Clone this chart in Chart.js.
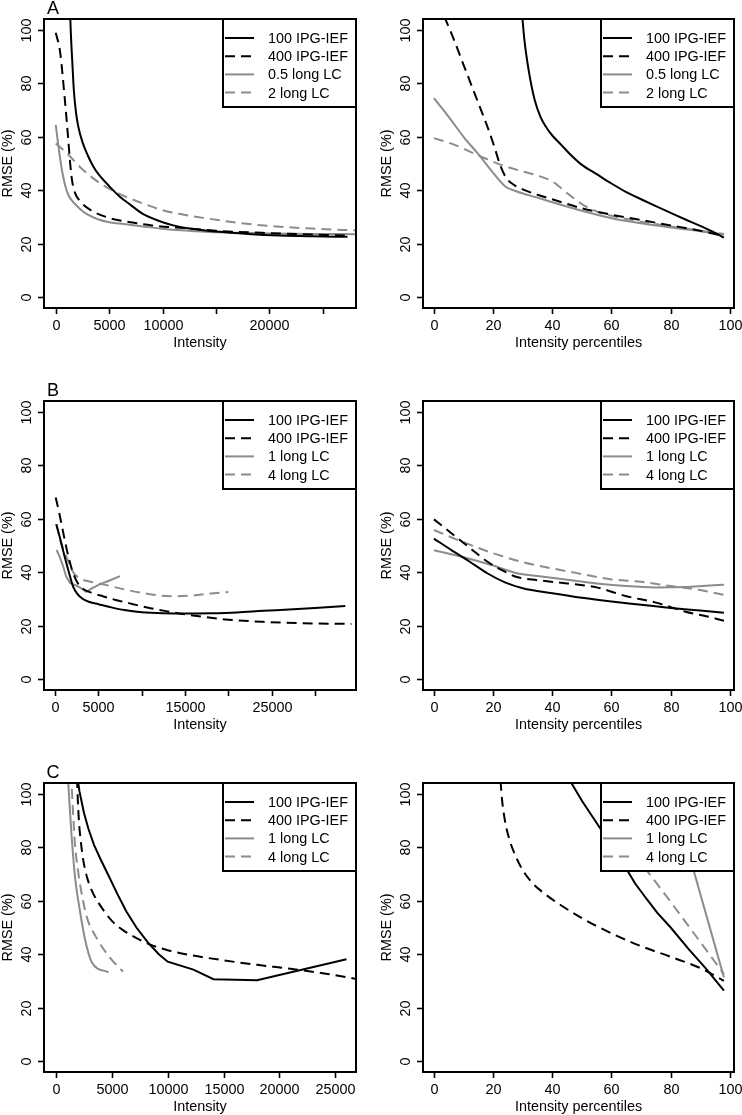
<!DOCTYPE html>
<html>
<head>
<meta charset="utf-8">
<script src="https://cdn.jsdelivr.net/npm/chart.js@4.4.1/dist/chart.umd.min.js"></script>
<style>
  html, body { margin: 0; padding: 0; background: #fff; }
  #page { position: relative; width: 742px; height: 1115px; overflow: hidden; }
  canvas { position: absolute; }
</style>
</head>
<body>
<div id="page">
  <canvas id="aInt" width="371" height="372" style="left:0;top:0"></canvas>
  <canvas id="aPct" width="371" height="372" style="left:371px;top:0"></canvas>
  <canvas id="bInt" width="371" height="372" style="left:0;top:372px"></canvas>
  <canvas id="bPct" width="371" height="372" style="left:371px;top:372px"></canvas>
  <canvas id="cInt" width="371" height="371" style="left:0;top:744px"></canvas>
  <canvas id="cPct" width="371" height="371" style="left:371px;top:744px"></canvas>
</div>
<script>
// ── Axis ticks / labels ───────────────────────────────────────────────────
const rmseTicks   = [0, 20, 40, 60, 80, 100];
const pctTicks    = [0, 20, 40, 60, 80, 100];
const intTicksA   = [0, 5000, 10000, 15000, 20000, 25000];
const intLabelsA  = ["0", "5000", "10000", "", "20000", ""];
const intTicksB   = [0, 5000, 10000, 15000, 20000, 25000, 30000];
const intLabelsB  = ["0", "5000", "", "15000", "", "25000", ""];
const intTicksC   = [0, 5000, 10000, 15000, 20000, 25000];
const intLabelsC  = ["0", "5000", "10000", "15000", "20000", "25000"];
const legendA     = ["100 IPG-IEF", "400 IPG-IEF", "0.5 long LC", "2 long LC"];
const legendBC    = ["100 IPG-IEF", "400 IPG-IEF", "1 long LC", "4 long LC"];

// ── A, intensity ──────────────────────────────────────────────────────────
const aIntX_ipg100 = [1300, 1400, 1550, 1700, 1900, 2100, 2500, 3000, 3500, 4000, 5000, 6000, 7000, 8000, 9000, 10000, 11000, 12500, 15000, 18000, 21000, 24000, 27300];
const aIntY_ipg100 = [112, 100, 88, 77, 69, 64, 58, 53, 49, 46, 41.5, 37.5, 34.5, 31.5, 29.5, 28, 26.8, 25.6, 24.5, 23.6, 23.0, 22.7, 22.5];
const aIntX_ipg400 = [0, 400, 850, 1150, 1350, 1550, 1800, 2250, 3200, 5000, 7000, 9000, 12000, 15000, 20000, 27300];
const aIntY_ipg400 = [99, 92, 74, 60, 50, 43, 39, 36, 32.7, 29.6, 28, 26.8, 25.8, 24.8, 23.9, 23];
const aIntX_lc1    = [0, 300, 600, 900, 1200, 1500, 2000, 2500, 3000, 4000, 5000, 6000, 8000, 10000, 13000, 16000, 20000, 24000, 28100];
const aIntY_lc1    = [64.5, 55, 47, 41.5, 38, 36.2, 34, 32.2, 30.8, 29, 28, 27.5, 26.5, 25.5, 24.6, 24.1, 23.8, 23.6, 23.5];
const aIntX_lc2    = [0, 1000, 2500, 4000, 5500, 7000, 8500, 10000, 12000, 14000, 17000, 20000, 24000, 28100];
const aIntY_lc2    = [57.5, 54, 47.8, 43, 39.5, 36.8, 34.5, 32.5, 30.8, 29.5, 27.8, 26.6, 25.6, 24.9];

// ── A, percentiles ────────────────────────────────────────────────────────
const aPctX_ipg100 = [29.5, 30.5, 32, 34, 36, 38, 40, 43, 46, 50, 55, 60, 65, 70, 75, 80, 85, 90, 95, 98];
const aPctY_ipg100 = [110, 97, 85, 74, 67.5, 63.5, 60.5, 57, 53.5, 49.5, 46, 42.5, 39.3, 36.6, 34, 31.5, 29, 26.6, 24, 22.2];
const aPctX_ipg400 = [3.5, 6, 10, 14, 18, 20.5, 22.5, 24.5, 27, 30, 35, 40, 50, 60, 70, 80, 90, 98];
const aPctY_ipg400 = [105, 98.5, 87, 75.5, 64, 56, 49, 44.5, 42, 40.3, 38.3, 36.6, 33.2, 30.8, 28.8, 26.8, 24.8, 22.8];
const aPctX_lc1    = [0, 5, 10, 15, 20, 24, 28, 35, 40, 50, 60, 70, 80, 90, 98];
const aPctY_lc1    = [74.5, 67.5, 60, 53.5, 46.5, 41.5, 39.5, 37.2, 35.5, 32.3, 29.5, 27.6, 26, 24.6, 23.3];
const aPctX_lc2    = [0, 7, 15, 24, 30, 35, 40, 45, 50, 55, 60, 70, 80, 90, 98];
const aPctY_lc2    = [59.5, 57, 53, 49, 47, 45.5, 43.3, 38.9, 34.8, 32, 30.4, 28.2, 26.4, 24.8, 23.6];

// ── B, intensity ──────────────────────────────────────────────────────────
const bIntX_ipg100 = [150, 600, 1100, 1600, 2100, 2600, 3200, 4000, 5000, 6500, 8000, 10000, 12500, 15000, 18000, 21000, 24000, 27000, 30000, 33500];
const bIntY_ipg100 = [58, 52.5, 46, 40, 34.5, 31.8, 30, 28.8, 28, 26.8, 25.8, 25, 24.6, 24.5, 24.6, 24.9, 25.5, 26, 26.6, 27.3];
const bIntX_ipg400 = [80, 500, 1000, 1500, 2000, 2600, 3300, 4500, 5500, 7000, 9000, 11000, 13000, 15000, 17000, 20000, 24000, 28000, 34200];
const bIntY_ipg400 = [68, 62, 54, 46.5, 40.5, 36, 33.6, 32, 31, 29.6, 28, 26.5, 25.3, 24.2, 23.3, 22.2, 21.4, 20.9, 20.6];
const bIntX_lc1    = [190, 580, 960, 1270, 1730, 2300, 2900, 3600, 4300, 5200, 6300, 7500];
const bIntY_lc1    = [48.3, 45.5, 42, 38.5, 36, 35.2, 34.2, 32.6, 34, 35.5, 36.9, 38.5];
const bIntX_lc4    = [150, 700, 1350, 2100, 3000, 4000, 5500, 7000, 8500, 10000, 12000, 14000, 16000, 18000, 20000];
const bIntY_lc4    = [58, 51, 45.5, 40, 37.5, 36.5, 35.5, 34.3, 33.2, 32.3, 31.3, 31, 31.3, 32, 32.6];

// ── B, percentiles ────────────────────────────────────────────────────────
const bPctX_ipg100 = [0, 6, 12, 18, 24, 30, 40, 50, 60, 70, 80, 90, 98];
const bPctY_ipg100 = [52.6, 48.2, 44, 39.6, 36.2, 34, 32.1, 30.4, 29, 27.8, 26.6, 25.6, 24.8];
const bPctX_ipg400 = [0, 6, 12, 18, 24, 28, 35, 45, 55, 65, 75, 85, 92, 98];
const bPctY_ipg400 = [59.8, 54.5, 49.2, 44, 40.2, 38.2, 37, 35.8, 34.3, 31.0, 28.6, 25.2, 23.5, 21.8];
const bPctX_lc1    = [0, 10, 20, 28, 35, 45, 55, 65, 75, 85, 92, 98];
const bPctY_lc1    = [48.2, 45.6, 42.5, 39.6, 38.6, 37.2, 35.8, 34.8, 34.3, 34.4, 34.9, 35.3];
const bPctX_lc4    = [0, 10, 20, 30, 40, 50, 60, 70, 80, 90, 98];
const bPctY_lc4    = [55.8, 51.2, 47.1, 43.8, 41.4, 39.3, 37.3, 36.4, 34.8, 33.3, 31.5];

// ── C, intensity ──────────────────────────────────────────────────────────
const cIntX_ipg100 = [1900, 2100, 2500, 2900, 3400, 4000, 4700, 5500, 6300, 7200, 8200, 9200, 10000, 12300, 14100, 18000, 26000];
const cIntY_ipg100 = [107, 101, 93, 87, 81, 75.5, 69.5, 62.5, 56, 50, 44.5, 40, 37.2, 34.2, 30.6, 30.2, 38.1];
const cIntX_ipg400 = [1880, 1950, 2050, 2200, 2450, 2800, 3300, 4000, 5000, 6000, 7000, 8500, 10000, 12000, 15000, 18000, 21000, 24000, 26900];
const cIntY_ipg400 = [106, 98, 90, 83, 75, 68.5, 63, 58, 52.5, 49, 46.5, 43.5, 41.5, 39.7, 37.7, 36, 34.5, 32.8, 30.7];
const cIntX_lc1    = [1050, 1200, 1400, 1700, 2150, 2600, 3200, 4700];
const cIntY_lc1    = [108, 97, 84, 69, 56, 45.5, 37, 33.2];
const cIntX_lc4    = [1350, 1500, 1700, 1950, 2200, 2750, 3600, 4800, 6000];
const cIntY_lc4    = [108, 95, 81, 72, 65, 54, 46.3, 38.8, 33.5];

// ── C, percentiles ────────────────────────────────────────────────────────
const cPctX_ipg100 = [46, 50, 56, 62, 68, 72, 75.5, 80, 86, 92, 98];
const cPctY_ipg100 = [105, 97.5, 87.5, 77.5, 66.5, 60.5, 55.5, 50, 42, 34.5, 26.3];
const cPctX_ipg400 = [22.5, 23, 24, 25.5, 27.5, 30, 33, 37, 42, 50, 60, 70, 80, 90, 98];
const cPctY_ipg400 = [105, 98, 90, 83, 77, 71.5, 67, 63, 59, 53.5, 47.8, 43, 39, 34.8, 30];
const cPctX_lc1    = [83, 98];
const cPctY_lc1    = [90, 31.3];
const cPctX_lc4    = [68, 72.6, 80, 86, 92, 98];
const cPctY_lc4    = [77.5, 70.4, 59.6, 50.6, 41.6, 32.5];

// ── Styling ───────────────────────────────────────────────────────────────
const GRAY = "#8c8c8c";
const FONT = '"Liberation Sans", Arial, Helvetica, sans-serif';
const STYLES = [
    { color: "#000", dash: [] },
    { color: "#000", dash: [10, 6] },
    { color: GRAY,   dash: [] },
    { color: GRAY,   dash: [10, 6] },
];

function pts(xs, ys) { return xs.map((x, i) => ({ x, y: ys[i] })); }

// R-style frame: box, outward ticks, rotated y labels, boxed legend, panel letter
const rFrame = {
    id: "rFrame",
    afterDatasetsDraw(chart, args, o) {
        const { ctx, chartArea: a } = chart;
        const xs = chart.scales.x, ys = chart.scales.y;
        ctx.save();
        ctx.fillStyle = "#000";
        ctx.strokeStyle = "#000";
        ctx.setLineDash([]);

        // legend (white, covers the lines)
        const lw = 133, lh = 88, lx = a.right - lw, ly = a.top;
        ctx.fillStyle = "#fff";
        ctx.fillRect(lx, ly, lw, lh);
        ctx.lineWidth = 2;
        ctx.strokeRect(lx, ly, lw, lh);
        ctx.font = "14.4px " + FONT;
        ctx.textAlign = "left";
        ctx.textBaseline = "middle";
        o.legend.forEach((txt, i) => {
            const st = STYLES[i], yy = ly + 19 + i * 18.2;
            ctx.strokeStyle = st.color;
            ctx.setLineDash(st.dash);
            ctx.beginPath(); ctx.moveTo(lx + 2, yy); ctx.lineTo(lx + 31, yy); ctx.stroke();
            ctx.setLineDash([]);
            ctx.fillStyle = "#000";
            ctx.fillText(txt, lx + 45, yy + 1);
        });

        // box
        ctx.strokeStyle = "#000";
        ctx.lineWidth = 2;
        ctx.strokeRect(a.left, a.top, a.right - a.left, a.bottom - a.top);

        // x axis
        ctx.lineWidth = 1.6;
        ctx.textAlign = "center";
        ctx.textBaseline = "alphabetic";
        o.xTicks.forEach((v, i) => {
            const px = Math.round(xs.getPixelForValue(v)) + 0.5;
            ctx.beginPath(); ctx.moveTo(px, a.bottom); ctx.lineTo(px, a.bottom + 6); ctx.stroke();
            if (o.xLabels[i]) ctx.fillText(o.xLabels[i], px, a.bottom + 21.5);
        });
        ctx.fillText(o.xTitle, (a.left + a.right) / 2, a.bottom + 38.5);

        // y axis
        rmseTicks.forEach(v => {
            const py = Math.round(ys.getPixelForValue(v)) + 0.5;
            ctx.beginPath(); ctx.moveTo(a.left, py); ctx.lineTo(a.left - 6, py); ctx.stroke();
            ctx.save(); ctx.translate(a.left - 13, py); ctx.rotate(-Math.PI / 2);
            ctx.fillText(String(v), 0, 0); ctx.restore();
        });
        ctx.save(); ctx.translate(a.left - 32, (a.top + a.bottom) / 2); ctx.rotate(-Math.PI / 2);
        ctx.fillText("RMSE (%)", 0, 0); ctx.restore();

        // panel letter
        if (o.letter) {
            ctx.font = "18px " + FONT;
            ctx.fillText(o.letter, a.left + 9, a.top - 5);
        }
        ctx.restore();
    }
};

function makePanel(id, pad, xMin, xMax, series, frame, straight) {
    straight = straight || [];
    const datasets = series.map((s, i) => ({
        data: pts(s[0], s[1]),
        borderColor: STYLES[i].color,
        borderDash: STYLES[i].dash,
        borderWidth: 2,
        pointRadius: 0,
        fill: false,
        cubicInterpolationMode: straight.includes(i) ? "default" : "monotone",
        tension: 0,
    }));
    return new Chart(document.getElementById(id), {
        type: "line",
        data: { datasets },
        options: {
            responsive: false, animation: false, devicePixelRatio: 1,
            layout: { padding: pad },
            plugins: { legend: { display: false }, tooltip: { enabled: false }, rFrame: frame },
            scales: {
                x: { type: "linear", min: xMin, max: xMax, display: false },
                y: { type: "linear", min: -4.16, max: 104.16, display: false },
            },
        },
        plugins: [rFrame],
    });
}

const padL = t => ({ left: 44, right: 15, top: t, bottom: 0 });
const padR = t => ({ left: 52, right: 8, top: t, bottom: 0 });

makePanel("aInt", { ...padL(19), bottom: 64 }, -1100, 28100,
    [[aIntX_ipg100, aIntY_ipg100], [aIntX_ipg400, aIntY_ipg400], [aIntX_lc1, aIntY_lc1], [aIntX_lc2, aIntY_lc2]],
    { xTicks: intTicksA, xLabels: intLabelsA, xTitle: "Intensity", legend: legendA, letter: "A" });
makePanel("aPct", { ...padR(19), bottom: 64 }, -3.7, 101.4,
    [[aPctX_ipg100, aPctY_ipg100], [aPctX_ipg400, aPctY_ipg400], [aPctX_lc1, aPctY_lc1], [aPctX_lc2, aPctY_lc2]],
    { xTicks: pctTicks, xLabels: pctTicks.map(String), xTitle: "Intensity percentiles", legend: legendA });
makePanel("bInt", { ...padL(29), bottom: 54 }, -1270, 34730,
    [[bIntX_ipg100, bIntY_ipg100], [bIntX_ipg400, bIntY_ipg400], [bIntX_lc1, bIntY_lc1], [bIntX_lc4, bIntY_lc4]],
    { xTicks: intTicksB, xLabels: intLabelsB, xTitle: "Intensity", legend: legendBC, letter: "B" }, [2]);
makePanel("bPct", { ...padR(29), bottom: 54 }, -3.7, 101.4,
    [[bPctX_ipg100, bPctY_ipg100], [bPctX_ipg400, bPctY_ipg400], [bPctX_lc1, bPctY_lc1], [bPctX_lc4, bPctY_lc4]],
    { xTicks: pctTicks, xLabels: pctTicks.map(String), xTitle: "Intensity percentiles", legend: legendBC });
makePanel("cInt", { ...padL(39), bottom: 43 }, -1075, 26855,
    [[cIntX_ipg100, cIntY_ipg100], [cIntX_ipg400, cIntY_ipg400], [cIntX_lc1, cIntY_lc1], [cIntX_lc4, cIntY_lc4]],
    { xTicks: intTicksC, xLabels: intLabelsC, xTitle: "Intensity", legend: legendBC, letter: "C" }, [0]);
makePanel("cPct", { ...padR(39), bottom: 43 }, -3.7, 101.4,
    [[cPctX_ipg100, cPctY_ipg100], [cPctX_ipg400, cPctY_ipg400], [cPctX_lc1, cPctY_lc1], [cPctX_lc4, cPctY_lc4]],
    { xTicks: pctTicks, xLabels: pctTicks.map(String), xTitle: "Intensity percentiles", legend: legendBC }, [0, 2, 3]);
</script>
</body>
</html>
